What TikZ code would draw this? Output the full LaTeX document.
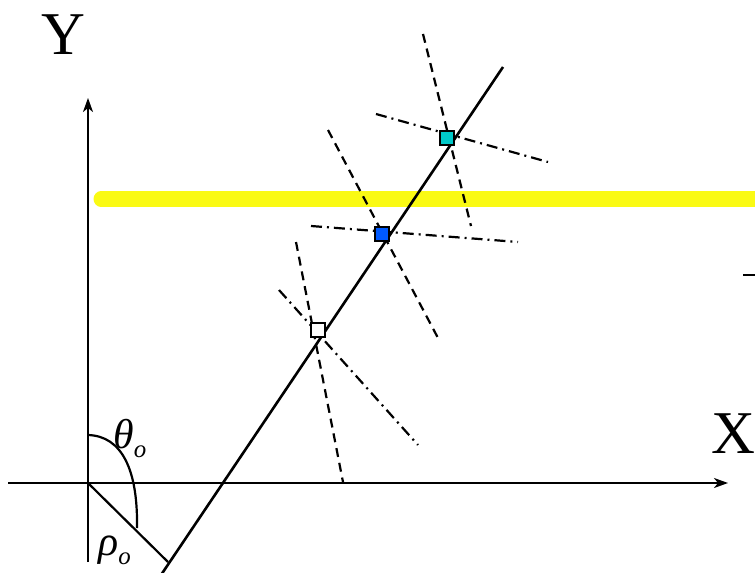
\documentclass[tikz,border=0pt]{standalone}
\usepackage{fontspec}
\setmainfont{Liberation Serif}
\usetikzlibrary{arrows.meta}
\definecolor{hiyel}{RGB}{250,250,20}
\definecolor{sqcyan}{RGB}{0,200,200}
\definecolor{sqblue}{RGB}{0,90,255}
\tikzset{
  axis/.style={line width=2bp,-{Stealth[length=14bp,width=10bp,inset=4bp]}},
  mainline/.style={line width=2.6bp},
  normline/.style={line width=2.2bp,dash pattern=on 9bp off 6bp},
  dotline/.style={line width=2.2bp,dash pattern=on 11bp off 5bp on 2bp off 5bp},
  pt/.style={draw,line width=2bp,minimum size=14bp,inner sep=0pt},
  biglab/.style={font=\fontsize{61}{61}\selectfont,inner sep=0pt},
  greeklab/.style={font=\fontsize{42}{42}\selectfont\itshape,inner sep=0pt}
}
\begin{document}
\begin{tikzpicture}[x=1bp,y=-1bp]
\useasboundingbox (0,0) rectangle (755,573);
% highlight band
\coordinate (bandL) at (101,199);
\coordinate (bandR) at (790,199);
\draw[hiyel,line width=15bp,line cap=round] (bandL) -- (bandR);
% axes
\coordinate (O) at (88,483);
\coordinate (xs) at (8,483);
\coordinate (xe) at (728,483);
\coordinate (ys) at (88,562);
\coordinate (ye) at (88,98);
\draw[axis] (xs) -- (xe);
\draw[axis] (ys) -- (ye);
\node[biglab] (Ylab) at (63,35) {Y};
\node[biglab] (Xlab) at (733,434) {X};
% fragment at right edge
\coordinate (fa) at (743,275);
\coordinate (fb) at (760,275);
\draw[line width=1.6bp] (fa) -- (fb);
% main line
\coordinate (Lb) at (161,575);
\coordinate (Lt) at (503,67);
\draw[mainline] (Lb) -- (Lt);
% normal from origin
\coordinate (foot) at (168,562);
\draw[line width=2.2bp] (O) -- (foot);
% theta arc
\coordinate (a1) at (88,435);
\coordinate (a2) at (137,528);
\draw[line width=2.2bp] (a1) .. controls (122,436) and (138,470) .. (a2);
\node[greeklab,anchor=base west] (th) at (113,448) {θ\raisebox{-0.22em}{\fontsize{25}{25}\selectfont o}};
\node[greeklab,anchor=base west] (rh) at (98,555) {ρ\raisebox{-0.22em}{\fontsize{25}{25}\selectfont o}};
% perpendicular and tangent lines at sample points
\coordinate (d1a) at (423,34);  \coordinate (d1b) at (471,226);
\coordinate (c1a) at (376,114); \coordinate (c1b) at (548,162);
\coordinate (d2a) at (328,130); \coordinate (d2b) at (438,338);
\coordinate (c2a) at (311,226); \coordinate (c2b) at (518,242);
\coordinate (d3a) at (296,242); \coordinate (d3b) at (343,482);
\coordinate (c3a) at (279,290); \coordinate (c3b) at (418,445);
\draw[normline] (d1a) -- (d1b);
\draw[dotline] (c1a) -- (c1b);
\draw[normline] (d2a) -- (d2b);
\draw[dotline] (c2a) -- (c2b);
\draw[normline] (d3a) -- (d3b);
\draw[dotline] (c3a) -- (c3b);
% sample points
\node[pt,fill=sqcyan] (p1) at (447,138) {};
\node[pt,fill=sqblue] (p2) at (382,234) {};
\node[pt,fill=white] (p3) at (318,330) {};
\end{tikzpicture}
\end{document}
